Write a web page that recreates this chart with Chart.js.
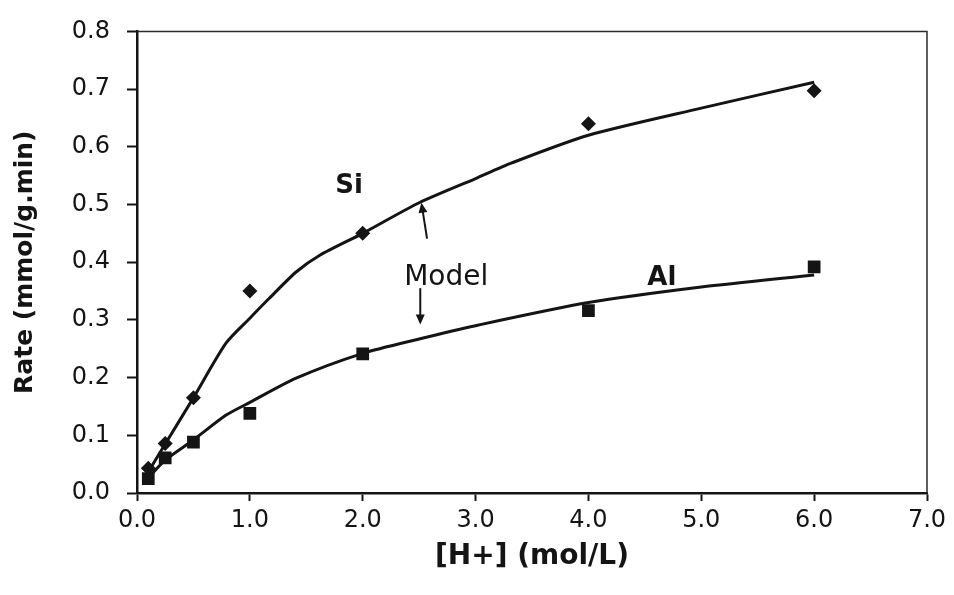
<!DOCTYPE html>
<html>
<head>
<meta charset="utf-8">
<script src="https://cdn.jsdelivr.net/npm/chart.js@4.4.1/dist/chart.umd.min.js"></script>
<style>
    html, body { margin: 0; padding: 0; background: #fff; }
    #wrap { width: 954px; height: 595px; }
</style>
</head>
<body>
<div id="wrap"><canvas id="chart" width="954" height="595"></canvas></div>
<script>
// measured rates (diamonds = Si, squares = Al)
var siX = [0.1, 0.25, 0.5, 1.0, 2.0, 4.0, 6.0];
var siY = [0.043, 0.086, 0.165, 0.350, 0.450, 0.640, 0.697];
var alX = [0.1, 0.25, 0.5, 1.0, 2.0, 4.0, 6.0];
var alY = [0.025, 0.061, 0.088, 0.138, 0.241, 0.316, 0.392];

// model curves
var siModelX = [0.08, 0.25, 0.5, 0.79, 1.0, 1.17, 1.41, 1.62, 2.0, 2.5, 3.0, 3.32, 4.0, 5.0, 6.0];
var siModelY = [0.03, 0.085, 0.165, 0.26, 0.303, 0.337, 0.383, 0.412, 0.45, 0.503, 0.545, 0.572, 0.62, 0.667, 0.712];
var alModelX = [0.08, 0.25, 0.5, 0.79, 1.0, 1.41, 2.0, 2.5, 3.0, 4.0, 5.0, 6.0];
var alModelY = [0.022, 0.057, 0.092, 0.135, 0.157, 0.199, 0.242, 0.267, 0.29, 0.33, 0.357, 0.378];

var xTicks = [0, 1, 2, 3, 4, 5, 6, 7];
var yTicks = [0, 0.1, 0.2, 0.3, 0.4, 0.5, 0.6, 0.7, 0.8];

// text notes and arrows, in data units
var noteText = ['Si', 'Model', 'Al'];
var noteX = [1.88, 2.74, 4.65];
var noteY = [0.532, 0.373, 0.373];
var noteBold = [true, false, true];
var arrowFrom = [[2.57, 0.441], [2.51, 0.355]];
var arrowTo = [[2.52, 0.503], [2.51, 0.292]];

var INK = '#141414';

function pairs(xs, ys) {
    var out = [], i;
    for (i = 0; i < xs.length; i++) {
        out.push({x: xs[i], y: ys[i]});
    }
    return out;
}

function fixedTicks(list) {
    return function (scale) {
        scale.ticks = list.map(function (v) { return {value: v}; });
    };
}

var decorations = {
    id: 'decorations',
    afterDatasetsDraw: function (chart) {
        var ctx = chart.ctx, a = chart.chartArea,
            sx = chart.scales.x, sy = chart.scales.y, i, x0, y0, x1, y1, ang;

        ctx.save();

        // thin frame on top and right
        ctx.strokeStyle = '#2a2a2a';
        ctx.lineWidth = 1.5;
        ctx.beginPath();
        ctx.moveTo(a.left, a.top);
        ctx.lineTo(a.right, a.top);
        ctx.lineTo(a.right, a.bottom);
        ctx.stroke();

        // arrows pointing at the model curves
        ctx.strokeStyle = INK;
        ctx.fillStyle = INK;
        ctx.lineWidth = 2;
        for (i = 0; i < arrowFrom.length; i++) {
            x0 = sx.getPixelForValue(arrowFrom[i][0]);
            y0 = sy.getPixelForValue(arrowFrom[i][1]);
            x1 = sx.getPixelForValue(arrowTo[i][0]);
            y1 = sy.getPixelForValue(arrowTo[i][1]);
            ang = Math.atan2(y1 - y0, x1 - x0);
            ctx.beginPath();
            ctx.moveTo(x0, y0);
            ctx.lineTo(x1 - 6 * Math.cos(ang), y1 - 6 * Math.sin(ang));
            ctx.stroke();
            ctx.beginPath();
            ctx.moveTo(x1, y1);
            ctx.lineTo(x1 - 10 * Math.cos(ang) + 4.5 * Math.sin(ang), y1 - 10 * Math.sin(ang) - 4.5 * Math.cos(ang));
            ctx.lineTo(x1 - 10 * Math.cos(ang) - 4.5 * Math.sin(ang), y1 - 10 * Math.sin(ang) + 4.5 * Math.cos(ang));
            ctx.closePath();
            ctx.fill();
        }

        // curve labels
        ctx.textAlign = 'center';
        ctx.textBaseline = 'middle';
        for (i = 0; i < noteText.length; i++) {
            ctx.font = noteBold[i] ? 'bold 26px "DejaVu Sans"' : '28px "DejaVu Sans"';
            ctx.fillText(noteText[i], sx.getPixelForValue(noteX[i]), sy.getPixelForValue(noteY[i]));
        }

        ctx.restore();
    }
};

new Chart(document.getElementById('chart'), {
    type: 'scatter',
    data: {
        datasets: [
            {
                label: 'Si',
                data: pairs(siX, siY),
                pointStyle: 'rectRot',
                pointRadius: 7.5,
                backgroundColor: INK,
                borderColor: INK,
                borderWidth: 0,
                order: 0
            },
            {
                label: 'Al',
                data: pairs(alX, alY),
                pointStyle: 'rect',
                pointRadius: 9,
                backgroundColor: INK,
                borderColor: INK,
                borderWidth: 0,
                order: 0
            },
            {
                label: 'Si model',
                data: pairs(siModelX, siModelY),
                showLine: true,
                pointRadius: 0,
                borderColor: INK,
                borderWidth: 3,
                borderJoinStyle: 'round',
                tension: 0.25,
                order: 1
            },
            {
                label: 'Al model',
                data: pairs(alModelX, alModelY),
                showLine: true,
                pointRadius: 0,
                borderColor: INK,
                borderWidth: 3,
                borderJoinStyle: 'round',
                tension: 0.25,
                order: 1
            }
        ]
    },
    options: {
        responsive: false,
        animation: false,
        devicePixelRatio: 1,
        layout: {padding: {top: 27, right: 27, left: 0, bottom: 0}},
        plugins: {
            legend: {display: false},
            tooltip: {enabled: false}
        },
        scales: {
            x: {
                type: 'linear',
                min: 0,
                max: 7,
                afterBuildTicks: fixedTicks(xTicks),
                afterFit: function (scale) { scale.height = 102; },
                grid: {drawOnChartArea: false, tickLength: 8, tickWidth: 2, tickColor: INK},
                border: {display: true, width: 2.5, color: INK},
                ticks: {
                    color: INK,
                    padding: 5,
                    maxRotation: 0,
                    font: {family: 'DejaVu Sans', size: 24},
                    callback: function (v) { return Number(v).toFixed(1); }
                },
                title: {
                    display: true,
                    text: '[H+] (mol/L)',
                    color: INK,
                    padding: {top: 0, bottom: 21},
                    font: {family: 'DejaVu Sans', size: 28, weight: 'bold'}
                }
            },
            y: {
                type: 'linear',
                min: 0,
                max: 0.8,
                afterBuildTicks: fixedTicks(yTicks),
                afterFit: function (scale) { scale.width = 137; },
                grid: {drawOnChartArea: false, tickLength: 10, tickWidth: 2, tickColor: INK},
                border: {display: true, width: 2.5, color: INK},
                ticks: {
                    color: INK,
                    padding: 17,
                    font: {family: 'DejaVu Sans', size: 24},
                    callback: function (v) { return Number(v).toFixed(1); }
                },
                title: {
                    display: true,
                    text: 'Rate (mmol/g.min)',
                    color: INK,
                    padding: {top: 10, bottom: 0},
                    font: {family: 'DejaVu Sans', size: 25, weight: 'bold'}
                }
            }
        }
    },
    plugins: [decorations]
});
</script>
</body>
</html>
